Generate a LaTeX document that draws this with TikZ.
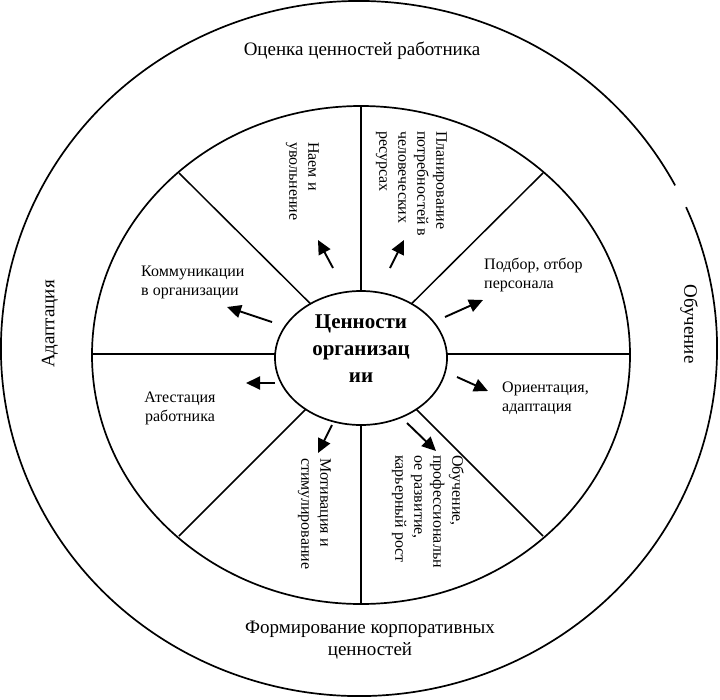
\documentclass[tikz,border=0pt]{standalone}
\usepackage{fontspec}
\setmainfont{Liberation Serif}
\usetikzlibrary{shapes.geometric,arrows.meta}

\begin{document}
\begin{tikzpicture}[
    x = 1pt,
    y = -1pt,
    ring/.style = {line width=1.7pt},
    spoke/.style = {line width=1.5pt},
    valarrow/.style = {line width=1.9pt, -{Triangle[length=14pt,width=13pt]}},
    item/.style = {font=\fontsize{16}{19}\selectfont, inner sep=0pt, align=left},
    ringlabel/.style = {font=\fontsize{19}{22}\selectfont, inner sep=0pt, align=center},
    coreshape/.style = {ellipse, draw, ring, fill=white, inner sep=0pt,
      minimum width=172pt, minimum height=134pt},
    ]
    \useasboundingbox (0,0) rectangle (720,699);
    % outer ring (with the small break on the right)
    \draw[ring] (359,348.5) ++(-24:358 and 347.5)
      arc [start angle=-24, end angle=332, x radius=358, y radius=347.5];
    % inner ring
    \draw[ring] (361,355) ellipse [x radius=269, y radius=249];
    % spokes
    \foreach \ex/\ey in {630/354, 543/173, 361/106, 179/173,
                         92/354, 179/536, 361/604, 543/536}
    \draw[spoke] (361,354) -- (\ex,\ey);
    % centre
    \node[coreshape] (core) at (361,358) {};
    \node[font=\bfseries\fontsize{21}{27}\selectfont, align=center, inner sep=0pt,
      yshift=9pt] (coretitle) at (core.center) {Ценности\\организац\\ии};
    % sector texts
    \node[item, rotate=-90, anchor=north west] (hire) at (319,142) {Наем и\\увольнение};
    \node[item, rotate=-90, anchor=north west] (plan) at (447,131)
      {Планирование\\потребностей в\\человеческих\\ресурсах};
    \node[item, anchor=north west] (select) at (484,258) {Подбор, отбор\\персонала};
    \node[item, anchor=north west] (orient) at (502,382) {Ориентация,\\адаптация};
    \node[item, rotate=-90, anchor=north west] (train) at (464,455)
      {Обучение,\\профессиональн\\ое развитие,\\карьерный рост};
    \node[item, rotate=-90, anchor=north west] (motiv) at (331,458)
      {Мотивация и\\стимулирование};
    \node[item, align=center, anchor=north] (attest) at (180,392) {Атестация\\работника};
    \node[item, anchor=north west] (comm) at (141,266) {Коммуникации\\в организации};
    % arrows
    \foreach \n/\sx/\sy/\ex/\ey in {hire/333/268/318/240, plan/390/268/404/240,
        select/445/317/483/300, orient/457/377/488/391, train/407/423/436/451,
        motiv/332/425/318/453, attest/275/383/246/383, comm/272/322/227/307}
    {
      \coordinate (\n s) at (\sx,\sy);
      \coordinate (\n e) at (\ex,\ey);
      \draw[valarrow] (\n s) -- (\n e);
    }
    % outer ring labels
    \node[ringlabel] (assess) at (362,51) {Оценка ценностей работника};
    \node[ringlabel] (forming) at (370,640) {Формирование корпоративных\\ценностей};
    \node[ringlabel, rotate=90] (adapt) at (50,324) {Адаптация};
    \node[ringlabel, rotate=-90] (learn) at (689,324) {Обучение};
  \end{tikzpicture}
\end{document}
